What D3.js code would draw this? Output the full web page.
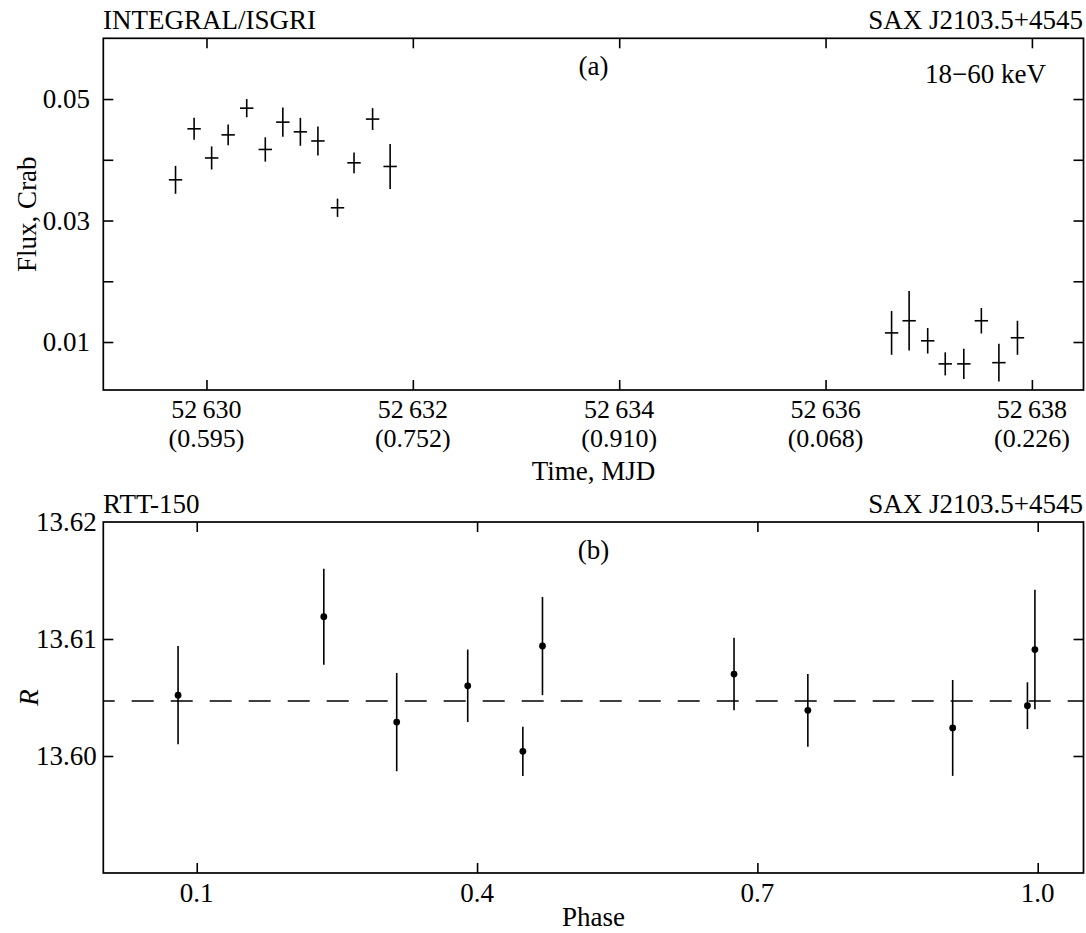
<!DOCTYPE html>
<html>
<head>
<meta charset="utf-8">
<script src="https://cdn.jsdelivr.net/npm/d3@7"></script>
<style>
  body { margin: 0; background: #fff; }
  svg text { font-family: "Liberation Serif", "Times New Roman", serif; font-size: 27px; fill: #000; }
  svg text.tick2 { font-size: 26px; }
</style>
</head>
<body>
<svg id="chart" width="1086" height="933"></svg>
<script>
// INTEGRAL/ISGRI light curve, 18-60 keV (MJD, flux in Crab, 1-sigma error)
const isgriTime = [52629.70, 52629.88, 52630.05, 52630.21, 52630.39, 52630.57, 52630.74,
                   52630.91, 52631.08, 52631.27, 52631.43, 52631.61, 52631.78,
                   52636.64, 52636.81, 52636.99, 52637.16, 52637.34, 52637.51, 52637.68, 52637.86];
const isgriFlux = [0.0367, 0.0451, 0.0403, 0.0441, 0.0485, 0.0417, 0.0462,
                   0.0446, 0.0431, 0.0321, 0.0395, 0.0467, 0.0389,
                   0.0115, 0.0135, 0.0102, 0.0064, 0.0064, 0.0135, 0.0066, 0.0107];
const isgriErr  = [0.0023, 0.0018, 0.0019, 0.0017, 0.0015, 0.0020, 0.0024,
                   0.0023, 0.0024, 0.0015, 0.0017, 0.0018, 0.0037,
                   0.0036, 0.0049, 0.0021, 0.0019, 0.0025, 0.0021, 0.0031, 0.0028];
const isgriBinHalf = 0.065; // half width of a time bin, days

// RTT-150 R-band photometry folded with the orbital period
const rttPhase = [0.080, 0.236, 0.314, 0.390, 0.449, 0.470, 0.675, 0.754, 0.909, 0.989, 0.997];
const rttMag   = [13.6052, 13.6119, 13.6029, 13.6060, 13.6004, 13.6094, 13.6070, 13.6039, 13.6024, 13.6043, 13.6091];
const rttErr   = [0.0042, 0.0041, 0.0042, 0.0031, 0.0021, 0.0042, 0.0031, 0.0031, 0.0041, 0.0020, 0.0051];
const rttMean  = 13.6047;

// Tick values and labels
const timeTicks = [52630, 52632, 52634, 52636, 52638];
const timeTickPhase = ["(0.595)", "(0.752)", "(0.910)", "(0.068)", "(0.226)"];
const fluxTicks = [0.01, 0.02, 0.03, 0.04, 0.05];
const fluxLabels = [0.01, 0.03, 0.05];
const phaseTicks = [0.1, 0.4, 0.7, 1.0];
const magTicks = [13.60, 13.61];
const magLabels = [13.60, 13.61, 13.62];

const svg = d3.select("#chart");
const L = 103.3, R = 1083.5;
const A = { top: 38.3, bottom: 390 };
const B = { top: 522, bottom: 873 };

const xA = d3.scaleLinear().domain([52629, 52638.5]).range([L, R]);
const yA = d3.scaleLinear().domain([0.0021, 0.0600]).range([A.bottom, A.top]);
const xB = d3.scaleLinear().domain([0, 1.049]).range([L, R]);
const yB = d3.scaleLinear().domain([13.59, 13.62]).range([B.bottom, B.top]);

// inward ticks on all four sides plus the frame
function frame(x, y, box, xt, yt) {
  const g = svg.append("g");
  const set = [
    [d3.axisBottom(x).tickValues(xt), `translate(0,${box.bottom})`],
    [d3.axisTop(x).tickValues(xt), `translate(0,${box.top})`],
    [d3.axisLeft(y).tickValues(yt), `translate(${L},0)`],
    [d3.axisRight(y).tickValues(yt), `translate(${R},0)`]
  ];
  set.forEach(([ax, tr]) => {
    g.append("g").attr("transform", tr)
      .call(ax.tickSizeInner(-10).tickSizeOuter(0).tickFormat(""))
      .call(s => s.select(".domain").remove())
      .call(s => s.selectAll(".tick line").attr("stroke", "#000").attr("stroke-width", 1.6));
  });
  g.append("rect").attr("x", L).attr("y", box.top)
    .attr("width", R - L).attr("height", box.bottom - box.top)
    .attr("fill", "none").attr("stroke", "#000").attr("stroke-width", 1.7);
}

// ---- Panel (a) ----
frame(xA, yA, A, timeTicks, fluxTicks);

const pa = svg.append("g").attr("stroke", "#000").attr("stroke-width", 1.6);
isgriTime.forEach((t, i) => {
  pa.append("line").attr("x1", xA(t)).attr("x2", xA(t))
    .attr("y1", yA(isgriFlux[i] - isgriErr[i])).attr("y2", yA(isgriFlux[i] + isgriErr[i]));
  pa.append("line").attr("x1", xA(t - isgriBinHalf)).attr("x2", xA(t + isgriBinHalf))
    .attr("y1", yA(isgriFlux[i])).attr("y2", yA(isgriFlux[i]));
});

svg.selectAll(".flab").data(fluxLabels).join("text")
  .attr("x", 90).attr("y", d => yA(d)).attr("dy", "0.35em")
  .attr("text-anchor", "end").text(d => d3.format(".2f")(d));

// MJD on the first row, orbital phase in brackets on the second
svg.selectAll(".tlab1").data(timeTicks).join("text").attr("class", "tick2")
  .attr("x", d => xA(d)).attr("y", 418).attr("text-anchor", "middle")
  .text(d => String(d).slice(0, 2) + "\u2009" + String(d).slice(2));
svg.selectAll(".tlab2").data(timeTicks).join("text").attr("class", "tick2")
  .attr("x", d => xA(d)).attr("y", 447).attr("text-anchor", "middle")
  .text((d, i) => timeTickPhase[i]);

svg.append("text").attr("x", (L + R) / 2).attr("y", 480).attr("text-anchor", "middle").text("Time, MJD");
svg.append("text").attr("transform", `translate(36,${(A.top + A.bottom) / 2}) rotate(-90)`)
  .attr("text-anchor", "middle").text("Flux, Crab");
svg.append("text").attr("x", 103).attr("y", 29).text("INTEGRAL/ISGRI");
svg.append("text").attr("x", 1083).attr("y", 29).attr("text-anchor", "end").text("SAX J2103.5+4545");
svg.append("text").attr("x", (L + R) / 2).attr("y", 75).attr("text-anchor", "middle").text("(a)");
svg.append("text").attr("x", 1046).attr("y", 83).attr("text-anchor", "end").text("18\u221260 keV");

// ---- Panel (b) ----
frame(xB, yB, B, phaseTicks, magTicks);

svg.append("line")
  .attr("x1", L).attr("x2", R).attr("y1", yB(rttMean)).attr("y2", yB(rttMean))
  .attr("stroke", "#000").attr("stroke-width", 1.5)
  .attr("stroke-dasharray", "22,17").attr("stroke-dashoffset", 10.6);

const pb = svg.append("g");
rttPhase.forEach((p, i) => {
  pb.append("line").attr("x1", xB(p)).attr("x2", xB(p))
    .attr("y1", yB(rttMag[i] - rttErr[i])).attr("y2", yB(rttMag[i] + rttErr[i]))
    .attr("stroke", "#000").attr("stroke-width", 1.6);
  pb.append("circle").attr("cx", xB(p)).attr("cy", yB(rttMag[i])).attr("r", 3.4).attr("fill", "#000");
});

svg.selectAll(".mlab").data(magLabels).join("text")
  .attr("x", 96.7).attr("y", d => yB(d)).attr("dy", "0.35em")
  .attr("text-anchor", "end").text(d => d3.format(".2f")(d));

svg.selectAll(".plab").data(phaseTicks).join("text")
  .attr("x", d => xB(d)).attr("y", 902).attr("text-anchor", "middle")
  .text(d => d3.format(".1f")(d));

svg.append("text").attr("x", (L + R) / 2).attr("y", 926).attr("text-anchor", "middle").text("Phase");
svg.append("text").attr("transform", `translate(38,${(B.top + B.bottom) / 2}) rotate(-90)`)
  .attr("text-anchor", "middle").attr("font-style", "italic").text("R");
svg.append("text").attr("x", 103).attr("y", 512.7).text("RTT-150");
svg.append("text").attr("x", 1083).attr("y", 512.7).attr("text-anchor", "end").text("SAX J2103.5+4545");
svg.append("text").attr("x", (L + R) / 2).attr("y", 559).attr("text-anchor", "middle").text("(b)");
</script>
</body>
</html>
